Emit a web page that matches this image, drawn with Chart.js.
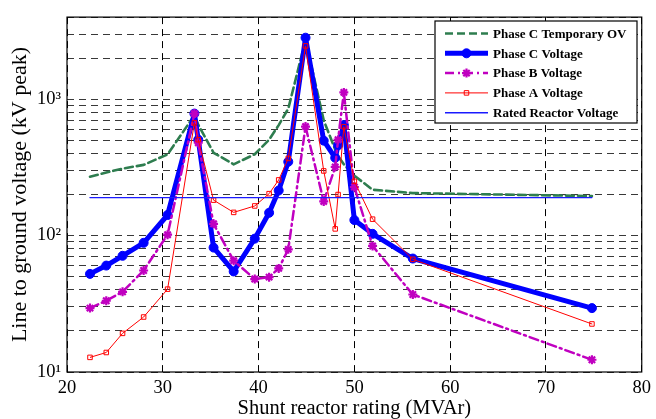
<!DOCTYPE html>
<html>
<head>
<meta charset="utf-8">
<script src="https://cdn.jsdelivr.net/npm/chart.js@4.4.1/dist/chart.umd.min.js"></script>
<style>
  html, body { margin: 0; padding: 0; background: #fff; }
  #wrap { width: 656px; height: 419px; }
</style>
</head>
<body>
<div id="wrap"><canvas id="chart"></canvas></div>
<script>
// values (kV peak vs MVAr)
const ratingMVAr    = [22.4, 24.1, 25.8, 28.0, 30.5, 33.3, 33.7, 35.3, 37.4, 39.6, 41.1, 42.1, 43.1, 44.9, 46.8, 48.0, 48.3, 48.9, 50.0, 51.9, 56.1, 74.8];
const phaseCTempOV  = [270, 290, 310, 330, 394, 762, 650, 405, 333, 395, 505, 646, 853, 2720, 700, 427, 383, 333, 275, 217, 205, 195];
const phaseCVoltage = [52.4, 60.3, 71.1, 88.5, 141.6, 785, 505, 81.7, 54.6, 95, 147, 214, 348, 2825, 497, 372, 460, 646, 130, 103, 67.9, 29.4];
const phaseBVoltage = [29.4, 33.3, 38.7, 55.5, 101.6, 785, 480, 122, 65.5, 48, 49.6, 57.5, 79.3, 630, 178, 319, 505, 1122, 227, 84, 37, 12.3];
const phaseAVoltage = [12.8, 13.9, 19.2, 25.3, 40.5, 671, 505, 182, 148, 165, 203, 256, 368, 2460, 298, 112, 200, 629, 250, 132, 67, 22.5];
const ratedRange    = [22.4, 74.8];
const ratedVoltage  = 190;

const xTicks = [20, 30, 40, 50, 60, 70, 80];
const yGrid  = [10, 20, 30, 40, 50, 60, 70, 80, 90,
                100, 200, 300, 400, 500, 600, 700, 800, 900,
                1000, 2000, 3000, 4000];
const yLabels = { 10: '10\u00B9', 100: '10\u00B2', 1000: '10\u00B3' };

const SERIF = '"Liberation Serif", "Times New Roman", serif';

const pts = ys => ratingMVAr.map((x, i) => ({ x: x, y: ys[i] }));

// box round the plot + legend drawn inside the axes, matlab style
const boxAndLegend = {
  id: 'boxAndLegend',
  afterDraw(chart) {
    const ctx = chart.ctx;
    const a = chart.chartArea;
    ctx.save();
    ctx.strokeStyle = '#000';
    ctx.lineWidth = 1.2;
    ctx.strokeRect(a.left, a.top, a.right - a.left, a.bottom - a.top);

    const bx = 435, by = 21, bw = 202, bh = 102;
    ctx.fillStyle = '#fff';
    ctx.fillRect(bx, by, bw, bh);
    ctx.lineWidth = 1.2;
    ctx.strokeRect(bx, by, bw, bh);

    ctx.font = 'bold 13px ' + SERIF;
    ctx.textBaseline = 'middle';
    chart.data.datasets.forEach((ds, i) => {
      const y = 33.5 + i * 19.8;
      ctx.save();
      ctx.strokeStyle = ds.borderColor;
      ctx.lineWidth = ds.borderWidth;
      ctx.setLineDash(ds.borderDash || []);
      ctx.beginPath();
      ctx.moveTo(445, y);
      ctx.lineTo(488, y);
      ctx.stroke();
      ctx.setLineDash([]);
      if (ds.pointRadius > 0) {
        ctx.fillStyle = ds.pointBackgroundColor;
        ctx.strokeStyle = ds.pointBorderColor;
        ctx.lineWidth = ds.pointBorderWidth;
        Chart.helpers.drawPoint(ctx, {
          pointStyle: ds.pointStyle, radius: ds.pointRadius,
          borderWidth: ds.pointBorderWidth, rotation: 0
        }, 466.5, y);
      }
      ctx.restore();
      ctx.fillStyle = '#000';
      ctx.fillText(ds.label, 493, y + 1);
    });
    ctx.restore();
  }
};

new Chart(document.getElementById('chart'), {
  type: 'line',
  data: {
    datasets: [
      {
        label: 'Phase C Temporary OV',
        data: pts(phaseCTempOV),
        borderColor: '#2e7d4f',
        borderWidth: 2.6,
        borderDash: [8, 4],
        pointRadius: 0,
        order: 5
      },
      {
        label: 'Phase C Voltage',
        data: pts(phaseCVoltage),
        borderColor: '#0000ff',
        borderWidth: 5,
        pointStyle: 'circle',
        pointRadius: 4.5,
        pointBackgroundColor: '#0000ff',
        pointBorderColor: '#0000ff',
        pointBorderWidth: 1,
        order: 4
      },
      {
        label: 'Phase B Voltage',
        data: pts(phaseBVoltage),
        borderColor: '#c000c0',
        borderWidth: 2.5,
        borderDash: [9, 4, 2, 4],
        pointStyle: 'star',
        pointRadius: 4.5,
        pointBackgroundColor: '#c000c0',
        pointBorderColor: '#c000c0',
        pointBorderWidth: 2.2,
        order: 3
      },
      {
        label: 'Phase A Voltage',
        data: pts(phaseAVoltage),
        borderColor: '#ff0000',
        borderWidth: 1,
        pointStyle: 'rect',
        pointRadius: 3.2,
        pointBackgroundColor: 'rgba(255,255,255,0)',
        pointBorderColor: '#ff0000',
        pointBorderWidth: 1,
        order: 2
      },
      {
        label: 'Rated Reactor Voltage',
        data: ratedRange.map(x => ({ x: x, y: ratedVoltage })),
        borderColor: '#1a1aff',
        borderWidth: 1.4,
        pointRadius: 0,
        order: 1
      }
    ]
  },
  options: {
    responsive: true,
    maintainAspectRatio: false,
    animation: false,
    layout: { padding: { top: 11, right: 11, left: 0, bottom: 0 } },
    elements: { line: { tension: 0, borderJoinStyle: 'round', borderCapStyle: 'round' } },
    plugins: {
      legend: { display: false },
      tooltip: { enabled: false }
    },
    scales: {
      x: {
        type: 'linear',
        min: 20,
        max: 80,
        afterBuildTicks: s => { s.ticks = xTicks.map(v => ({ value: v })); },
        afterFit: s => { s.height = 47; },
        ticks: {
          color: '#000',
          padding: 5,
          font: { family: SERIF, size: 18.5 }
        },
        grid: { color: '#000', lineWidth: 1, drawTicks: false },
        border: { display: false, dash: [7, 5] },
        title: {
          display: true,
          text: 'Shunt reactor rating (MVAr)',
          color: '#000',
          font: { family: SERIF, size: 20.5, lineHeight: 1 },
          padding: { top: 0, bottom: 0 }
        }
      },
      y: {
        type: 'logarithmic',
        min: 10,
        max: 4000,
        afterBuildTicks: s => { s.ticks = yGrid.map(v => ({ value: v })); },
        afterFit: s => { s.width = 67; },
        ticks: {
          autoSkip: false,
          color: '#000',
          padding: 6,
          font: { family: SERIF, size: 18.5 },
          callback: v => yLabels[v] || ''
        },
        grid: { color: '#222', lineWidth: 0.9, drawTicks: false },
        border: { display: false, dash: [7, 5] },
        title: {
          display: true,
          text: 'Line to ground voltage (kV peak)',
          color: '#000',
          font: { family: SERIF, size: 22, lineHeight: 1 },
          padding: { top: 9, bottom: 0 }
        }
      }
    }
  },
  plugins: [boxAndLegend]
});
</script>
</body>
</html>
